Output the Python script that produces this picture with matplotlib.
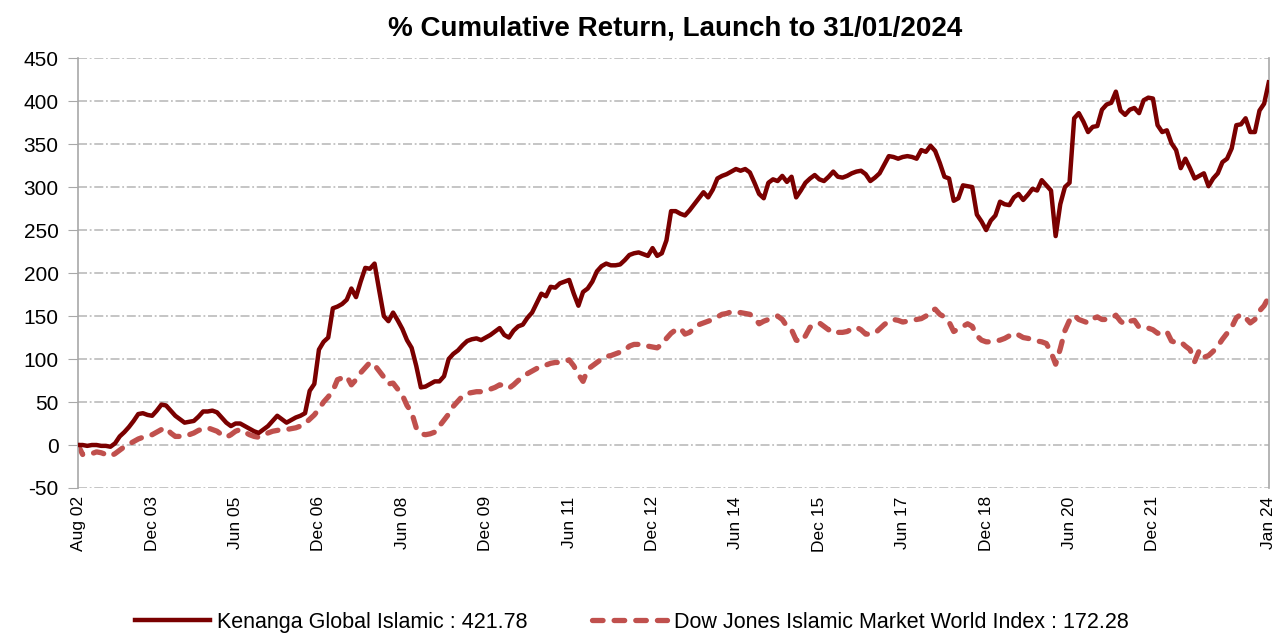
import numpy as np
import pandas as pd
import matplotlib
matplotlib.use("Agg")
import matplotlib.pyplot as plt

plt.rcParams["font.family"] = ["Liberation Sans", "DejaVu Sans"]
plt.rcParams["axes.unicode_minus"] = False

# ------------------------
# Data (monthly, Aug 2002 - Jan 2024), % cumulative return
# ------------------------
dates = pd.date_range("2002-08-01", "2024-01-01", freq="MS")

fund = [
    0, 0, -1, 0, 0, -1, -1, -2, 2, 10, 15, 21,
    28, 36, 37, 35, 34, 40, 47, 46, 40, 34, 30, 26,
    27, 28, 33, 39, 39, 40, 38, 32, 26, 22, 25, 25,
    22, 19, 16, 14, 18, 22, 28, 34, 30, 26, 29, 32,
    34, 37, 63, 71, 111, 120, 125, 159, 161, 164, 169, 182,
    172, 190, 206, 205, 211, 180, 150, 144, 154, 145, 135, 122,
    113, 92, 67, 68, 71, 74, 74, 80, 100, 106, 110, 116,
    121, 123, 124, 122, 125, 128, 132, 136, 128, 125, 133, 138,
    140, 148, 154, 165, 176, 173, 184, 183, 188, 190, 192, 176,
    162, 178, 182, 190, 202, 208, 211, 209, 209, 210, 215, 221,
    223, 224, 222, 220, 229, 220, 223, 238, 272, 272, 269, 267,
    273, 280, 287, 294, 288, 297, 310, 313, 315, 318, 321, 319,
    321, 317, 305, 292, 287, 305, 309, 307, 313, 306, 312, 288,
    296, 305, 310, 314, 309, 307, 312, 318, 312, 311, 313, 316,
    318, 319, 315, 307, 311, 316, 326, 336, 335, 333, 335, 336,
    335, 333, 343, 341, 348, 342, 328, 312, 310, 284, 287, 302,
    301, 300, 268, 260, 250, 261, 267, 283, 280, 279, 288, 292,
    285, 291, 298, 296, 308, 302, 296, 243, 280, 300, 305, 380,
    386, 376, 364, 370, 371, 390, 396, 398, 411, 389, 384, 390,
    392, 386, 401, 404, 403, 372, 364, 366, 351, 343, 322, 333,
    322, 310, 313, 316, 301, 310, 316, 329, 333, 345, 372, 373,
    380, 364, 364, 389, 397, 421.78,
]

index = [
    0, -11, -11, -10, -8, -9, -11, -13, -10, -6, -2, 1,
    4, 7, 9, 11, 12, 15, 18, 20, 14, 10, 10, 10,
    12, 14, 17, 19, 20, 18, 16, 12, 9, 12, 16, 18,
    15, 12, 10, 9, 11, 14, 16, 17, 18, 18, 19, 20,
    22, 25, 30, 35, 42, 50, 56, 63, 76, 78, 80, 70,
    76, 84, 90, 96, 93, 86, 79, 71, 72, 65, 58, 46,
    38, 20, 13, 12, 13, 15, 22, 29, 36, 45, 51, 57,
    60, 61, 62, 62, 63, 65, 67, 70, 69, 66, 70, 75,
    79, 83, 86, 89, 92, 93, 95, 96, 96, 97, 99, 92,
    82, 74, 88, 92, 96, 100, 103, 104, 106, 108, 110, 115,
    117, 117, 117, 115, 114, 113, 117, 124, 130, 134, 136, 129,
    131, 136, 140, 142, 144, 146, 149, 152, 153, 155, 154, 154,
    153, 152, 148, 141, 144, 146, 148, 150, 146, 138, 134, 122,
    120, 127, 137, 139, 142, 138, 134, 135, 131, 131, 132, 135,
    137, 134, 129, 129, 130, 135, 140, 144, 146, 145, 143, 144,
    145, 146, 147, 150, 156, 158, 152, 149, 143, 132, 135, 138,
    141, 138, 127, 122, 120, 120, 121, 122, 124, 127, 130, 128,
    125, 124, 123, 121, 120, 118, 108, 94, 112, 133, 145, 151,
    146, 144, 142, 147, 149, 146, 146, 147, 151, 144, 140, 144,
    145, 137, 136, 136, 134, 130, 130, 132, 121, 119, 120, 115,
    111, 97, 110, 102, 104, 109, 115, 123, 130, 137, 148, 152,
    148, 142, 146, 156, 162, 172.28,
]

tick_months = ["2002-08", "2003-12", "2005-06", "2006-12", "2008-06", "2009-12",
               "2011-06", "2012-12", "2014-06", "2015-12", "2017-06", "2018-12",
               "2020-06", "2021-12", "2024-01"]

fund_label = "Kenanga Global Islamic : 421.78"
index_label = "Dow Jones Islamic Market World Index : 172.28"

# ------------------------
# Plot
# ------------------------
x = np.arange(len(dates))
month_pos = {d.strftime("%Y-%m"): i for i, d in enumerate(dates)}
tick_pos = [month_pos[m] for m in tick_months]
tick_lab = [pd.Timestamp(m).strftime("%b %y") for m in tick_months]

fig = plt.figure(figsize=(12.79, 6.35), dpi=100)
ax = fig.add_axes([0.061, 0.2315, 0.931, 0.677])

ax.plot(x, fund, color="#7A0000", lw=3.2, label=fund_label,
        solid_joinstyle="round", zorder=3)
ax.plot(x, index, color="#C0504D", lw=3.8, dashes=(2.0, 2.1),
        dash_capstyle="round", dash_joinstyle="round", label=index_label, zorder=2)

ax.set_xlim(0, len(dates) - 1)
ax.set_ylim(-50, 450)
ax.set_yticks(np.arange(-50, 451, 50))
ax.set_xticks(tick_pos)
ax.set_xticklabels(tick_lab, rotation=90, fontsize=12.5)
ax.tick_params(axis="y", labelsize=15, length=7, color="#A8A8A8", pad=7)
ax.tick_params(axis="x", length=0, pad=6)

ax.grid(axis="y", color="#C0C0C0", lw=1.3, linestyle=(0, (5, 1.5, 1, 1.5)))
for s in ["top", "bottom"]:
    ax.spines[s].set_visible(False)
for s in ["left", "right"]:
    ax.spines[s].set_color("#A8A8A8")
    ax.spines[s].set_linewidth(1.2)

fig.text(0.528, 0.955, "% Cumulative Return, Launch to 31/01/2024",
         ha="center", va="center", fontsize=20, fontweight="bold")

fig.legend(loc="center", bbox_to_anchor=(0.494, 0.02), ncol=2, frameon=False,
           handlelength=3.5, columnspacing=3.0, handletextpad=0.3,
           prop={"size": 15.5})

fig.savefig("out.png", dpi=100)
